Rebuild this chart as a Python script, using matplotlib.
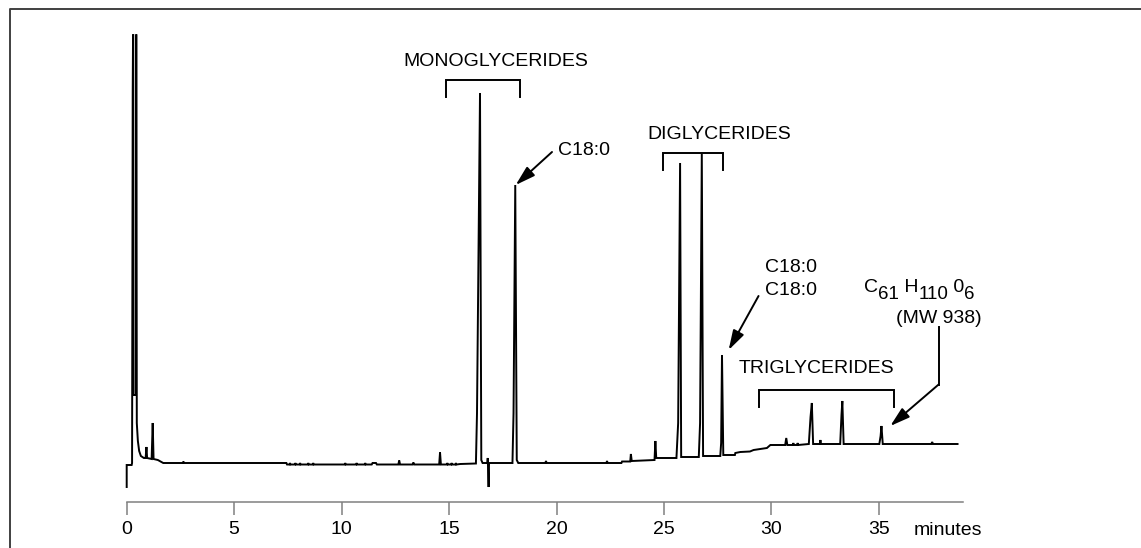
import numpy as np
import matplotlib.pyplot as plt
from matplotlib.lines import Line2D
from matplotlib.transforms import offset_copy

plt.rcParams['font.family'] = ['Liberation Sans', 'DejaVu Sans']

# chromatogram trace (detector response in arbitrary units)
time_min = [0.00, 0.00, 0.23, 0.25, 0.28, 0.295, 0.305, 0.32, 0.43, 0.44, 0.45, 0.47,
            0.52, 0.58, 0.66, 0.80, 0.88, 0.92, 0.95, 1.16, 1.21, 1.25, 1.45, 1.62, 1.70,
            2.62, 2.64, 2.66,
            7.43, 7.46, 7.58, 7.60, 7.62, 7.83, 7.85, 7.87, 8.05, 8.07, 8.09,
            8.43, 8.45, 8.47, 8.66, 8.68, 8.70,
            10.15, 10.17, 10.19, 10.68, 10.70, 10.72, 11.08, 11.10, 11.12,
            11.40, 11.44, 11.60, 11.64,
            12.64, 12.68, 12.72, 13.30, 13.34, 13.38,
            14.54, 14.58, 14.62, 14.90, 14.92, 14.94, 15.10, 15.12, 15.14,
            15.30, 15.32, 15.34,
            15.52, 16.25, 16.30, 16.44, 16.50, 16.56,
            16.78, 16.80, 16.84, 16.86,
            17.95, 18.00, 18.08, 18.15, 18.22,
            19.48, 19.51, 19.54, 22.32, 22.35, 22.38,
            23.02, 23.05, 23.43, 23.46, 23.50,
            24.56, 24.60, 24.64,
            25.58, 25.66, 25.75, 25.80,
            26.62, 26.68, 26.76, 26.82,
            27.62, 27.66, 27.70, 27.76,
            28.30, 28.32, 28.55, 29.00, 29.17, 29.79, 29.95,
            30.64, 30.69, 30.74,
            31.00, 31.02, 31.04, 31.20, 31.22, 31.24,
            31.74, 31.82, 31.88, 31.94,
            32.26, 32.28, 32.30,
            33.20, 33.26, 33.30, 33.36,
            35.02, 35.08, 35.12, 35.18,
            37.44, 37.48, 37.52,
            38.66]
signal = [-24, -2, -2, 0, 371, 428, 428, 68, 68, 428, 428, 40,
          22, 12, 7, 5, 5, 16, 5, 4, 40, 4, 3, 1, 0,
          0, 1.5, 0,
          0, -1.5, -1.5, 0, -1.5, -1.5, 0, -1.5, -1.5, 0, -1.5,
          -1.5, 0, -1.5, -1.5, 0, -1.5,
          -1.5, 0, -1.5, -1.5, 0, -1.5, -1.5, 0, -1.5,
          -1.5, 0, 0, -1.5,
          -1.5, 2.5, -1.5, -1.5, 0.5, -1.5,
          -1.5, 10.5, -1.5, -1.5, 0, -1.5, -1.5, 0, -1.5,
          -1.5, 0, -1.5,
          -1, -0.5, 50, 370, 3, 0,
          0, 5, -24, 0,
          0, 50, 278, 3, 0,
          0, 2, 0, 0, 2, 0,
          0, 1.5, 1.5, 9, 2,
          3, 22, 5,
          5, 40, 300, 6,
          6, 40, 309, 7,
          7, 20, 108, 8,
          8, 10, 11, 11.5, 13, 15, 18,
          18, 25, 18,
          18, 20, 18, 18, 20, 18,
          19, 46, 60, 19,
          19, 23, 19,
          19, 48, 62, 19,
          19, 27, 37, 19,
          19, 21, 19,
          19]

x_ticks = [0, 5, 10, 15, 20, 25, 30, 35]

# retention windows of the compound groups
group_names = ["MONOGLYCERIDES", "DIGLYCERIDES", "TRIGLYCERIDES"]
group_start = [14.85, 24.95, 29.44]
group_end = [18.31, 27.75, 35.69]

# molecular formula of the late eluting triglyceride: (text, is_subscript)
formula_parts = [("C", False), ("61", True), (" H", False), ("110", True),
                 (" 0", False), ("6", True)]

fig = plt.figure(figsize=(11.41, 5.48), dpi=100)
ax = fig.add_axes([0.11104, 0.08394, 0.73269, 0.85219])
ax.set_xlim(0, 38.9)
ax.set_ylim(-39, 428)

ax.plot(time_min, signal, color='black', lw=1.4, solid_joinstyle='miter', clip_on=False)

for side in ['left', 'right', 'top']:
    ax.spines[side].set_visible(False)
ax.spines['bottom'].set_color('#808080')
ax.spines['bottom'].set_linewidth(1.1)
ax.set_yticks([])
ax.set_xticks(x_ticks)
ax.tick_params(axis='x', direction='out', length=9.4, width=1.1, color='#808080',
               pad=4.3, labelsize=14)
ax.text(36.61, -72, "minutes", fontsize=14, ha='left', va='baseline', clip_on=False)

# brackets over the groups
bracket_top = [383, 309.7, 73]
bracket_leg = 16.7
for name, t0, t1, top in zip(group_names, group_start, group_end, bracket_top):
    ax.plot([t0, t0, t1, t1], [top - bracket_leg, top, top, top - bracket_leg],
            color='black', lw=1.4, solid_joinstyle='miter', clip_on=False)

ax.text(17.19, 396.7, group_names[0], fontsize=14, ha='center', va='baseline')
ax.text(24.21, 324.3, group_names[1], fontsize=14, ha='left', va='baseline')
ax.text(28.47, 90, group_names[2], fontsize=14, ha='left', va='baseline')

arrow = dict(arrowstyle="-|>,head_length=1.0,head_width=0.3", color='black', lw=1.4,
             shrinkA=0, shrinkB=0, mutation_scale=12)

# monoglyceride C18:0
ax.text(20.05, 307.7, "C18:0", fontsize=14, ha='left', va='baseline')
ax.annotate("", xy=(18.10, 278), xytext=(19.79, 311), arrowprops=arrow)

# diglyceride C18:0 / C18:0
ax.text(29.72, 191, "C18:0", fontsize=14, ha='left', va='baseline')
ax.text(29.72, 167.7, "C18:0", fontsize=14, ha='left', va='baseline')
ax.annotate("", xy=(28.01, 113), xytext=(29.40, 167), arrowprops=arrow)

# triglyceride C61, formula built piece by piece
renderer = fig.canvas.get_renderer()
xoff = 0.0
for part, sub in formula_parts:
    size = 13.5 if sub else 14
    dy = -5.0 if sub else 0.0
    tr = offset_copy(ax.transData, fig=fig, x=xoff, y=dy, units='points')
    t = ax.text(34.30, 171, part, fontsize=size, ha='left', va='baseline',
                transform=tr, clip_on=False)
    xoff += t.get_window_extent(renderer).width * 72 / fig.dpi
ax.text(39.80, 140, "(MW 938)", fontsize=14, ha='right', va='baseline', clip_on=False)
ax.plot([37.78, 37.78], [136.3, 78], color='black', lw=1.4, clip_on=False)
ax.annotate("", xy=(35.53, 37), xytext=(37.78, 78.5), arrowprops=arrow)

# partial frame (left and top edges)
fx = 10 / 1141
fy = 1 - 9 / 548
fig.add_artist(Line2D([fx, fx, 1], [0, fy, fy], transform=fig.transFigure,
                      color='#404040', lw=1.4))

fig.savefig("out.png", dpi=100)
